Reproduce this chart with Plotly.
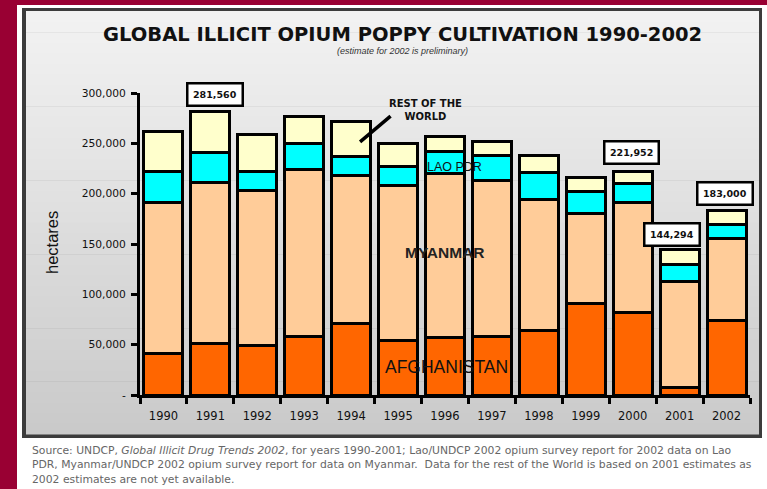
import plotly.graph_objects as go

# ---- data (hectares) ----
years = ["1990", "1991", "1992", "1993", "1994", "1995", "1996",
         "1997", "1998", "1999", "2000", "2001", "2002"]
afghanistan = [41300, 50800, 49300, 58300, 71470, 53759, 56824,
               58416, 63674, 90583, 82172, 7606, 74000]
myanmar = [150100, 160000, 153700, 165800, 146600, 154070, 163000,
           155150, 130300, 89500, 108700, 105000, 81400]
lao_pdr = [30580, 29625, 19190, 26040, 18520, 19650, 21601,
           24082, 26837, 22543, 19052, 17255, 14000]
rest_of_world = [40000, 41135, 36500, 27000, 35400, 22500, 15600,
                 14300, 17200, 13400, 12028, 14433, 13600]
callout_years = ["1991", "2000", "2001", "2002"]
callout_labels = ["281,560", "221,952", "144,294", "183,000"]
y_tickvals = [0, 50000, 100000, 150000, 200000, 250000, 300000]
y_ticktext = ["-", "50,000", "100,000", "150,000", "200,000", "250,000", "300,000"]

FONT = "Liberation Sans, Arial, sans-serif"
DJ = "DejaVu Sans, sans-serif"
W, H = 767, 489
L, R, T, B = 140, 750, 93, 395

def px(x):
    return (x - L) / (R - L)

def py(y):
    return (B - y) / (B - T)

xs = list(range(len(years)))
fig = go.Figure()
series = [
    ("Afghanistan", afghanistan, "#FF6600"),
    ("Myanmar", myanmar, "#FFCC99"),
    ("Lao PDR", lao_pdr, "#00FFFF"),
    ("Rest of the World", rest_of_world, "#FFFFCC"),
]
for name, vals, col in series:
    fig.add_trace(go.Bar(
        x=xs, y=vals, name=name,
        marker=dict(color=col, line=dict(color="black", width=3)),
        hoverinfo="x+y+name",
    ))

totals = [a + m + l + r for a, m, l, r in zip(afghanistan, myanmar, lao_pdr, rest_of_world)]

shapes = []
# white page area
shapes.append(dict(type="rect", xref="paper", yref="paper", layer="below",
                   x0=px(17), x1=px(767), y0=py(489), y1=py(5),
                   fillcolor="white", line=dict(width=0)))
# panel border
shapes.append(dict(type="rect", xref="paper", yref="paper", layer="below",
                   x0=px(22), x1=px(762), y0=py(438), y1=py(8),
                   fillcolor="#3c3c3c", line=dict(width=0)))
# gradient panel interior
top, bot = 11, 434
n = 40
c_top, c_bot = 243, 201
for i in range(n):
    y0 = top + (bot - top) * i / n
    y1 = top + (bot - top) * (i + 1) / n
    t = (i + 0.5) / n
    c = int(round(c_top + (c_bot - c_top) * t))
    shapes.append(dict(type="rect", xref="paper", yref="paper", layer="below",
                       x0=px(26), x1=px(759), y0=py(y1 + 0.6), y1=py(y0),
                       fillcolor=f"rgb({c},{c},{c})", line=dict(width=0)))

annotations = []
annotations.append(dict(text="<b>GLOBAL ILLICIT OPIUM POPPY CULTIVATION 1990-2002</b>",
                        xref="paper", yref="paper", x=px(402), y=py(34),
                        xanchor="center", yanchor="middle", showarrow=False,
                        font=dict(family=DJ, size=19.5, color="#111")))
annotations.append(dict(text="<i>(estimate for 2002 is preliminary)</i>",
                        xref="paper", yref="paper", x=px(402), y=py(51),
                        xanchor="center", yanchor="middle", showarrow=False,
                        font=dict(family=FONT, size=9, color="#333")))
annotations.append(dict(text="hectares", xref="paper", yref="paper",
                        x=px(52), y=py(243), textangle=-90,
                        xanchor="center", yanchor="middle", showarrow=False,
                        font=dict(family=FONT, size=16.5, color="#111")))
annotations.append(dict(text="<b>REST OF THE<br>WORLD</b>", xref="paper", yref="paper",
                        x=px(425), y=py(110), xanchor="center", yanchor="middle",
                        showarrow=False, font=dict(family=DJ, size=10, color="#111")))
# arrow line for rest of world
annotations.append(dict(text="", x=4.19, y=251500, xref="x", yref="y",
                        showarrow=True, arrowhead=0, arrowwidth=3.5, arrowcolor="black",
                        ax=32, ay=-27, standoff=0, startstandoff=0))
annotations.append(dict(text="LAO PDR", xref="paper", yref="paper",
                        x=px(454), y=py(167), xanchor="center", yanchor="middle",
                        showarrow=False, font=dict(family=FONT, size=12.5, color="#111")))
annotations.append(dict(text="<b>MYANMAR</b>", xref="paper", yref="paper",
                        x=px(445), y=py(252), xanchor="center", yanchor="middle",
                        showarrow=False, font=dict(family=FONT, size=15.5, color="#222")))
annotations.append(dict(text="AFGHANISTAN", xref="paper", yref="paper",
                        x=px(446), y=py(367), xanchor="center", yanchor="middle",
                        showarrow=False, font=dict(family=FONT, size=17.5, color="#111")))

shifts = {"1991": (5, 17), "2000": (-1, 19), "2001": (-8, 15), "2002": (-2, 17)}
for yr, lab in zip(callout_years, callout_labels):
    i = years.index(yr)
    xs_, ys_ = shifts[yr]
    annotations.append(dict(text="<b>" + lab + "</b>", x=i, y=totals[i], xref="x", yref="y",
                            xshift=xs_, yshift=ys_, showarrow=False,
                            xanchor="center", yanchor="middle",
                            bgcolor="white", bordercolor="black", borderwidth=2.5,
                            borderpad=4.5, font=dict(family=DJ, size=9.5, color="#111")))

src_lines = [
    "Source: UNDCP, <i>Global Illicit Drug Trends 2002</i>, for years 1990-2001; Lao/UNDCP 2002 opium survey report for 2002 data on Lao",
    "PDR, Myanmar/UNDCP 2002 opium survey report for data on Myanmar.  Data for the rest of the World is based on 2001 estimates as",
    "2002 estimates are not yet available.",
]
for k, line in enumerate(src_lines):
    annotations.append(dict(text=line, xref="paper", yref="paper",
                            x=px(30), y=py(450 + 14.5 * k), xanchor="left", yanchor="middle",
                            showarrow=False, font=dict(family=DJ, size=10.8, color="#666")))

fig.update_layout(
    width=W, height=H,
    margin=dict(l=L, r=W - R, t=T, b=H - B, pad=0),
    paper_bgcolor="#990033",
    plot_bgcolor="rgba(0,0,0,0)",
    barmode="stack", bargap=0.17,
    showlegend=False,
    shapes=shapes,
    annotations=annotations,
    font=dict(family=FONT, color="#111"),
    xaxis=dict(range=[-0.5, 12.5], tickvals=xs, ticktext=years, ticks="",
               showline=True, linecolor="black", linewidth=3, showgrid=False,
               zeroline=False, ticklabelstandoff=8,
               tickfont=dict(family=DJ, size=11.5, color="#111")),
    yaxis=dict(range=[0, 300000], tickvals=y_tickvals, ticktext=y_ticktext,
               ticks="outside", ticklen=6, tickwidth=2.5, tickcolor="black",
               showline=True, linecolor="black", linewidth=3, showgrid=False,
               zeroline=False, ticklabelstandoff=3,
               tickfont=dict(family=DJ, size=10.7, color="#111")),
)
fig.update_xaxes(minor=dict(ticks="outside", ticklen=6, tickwidth=2.5, tickcolor="black",
                            tickvals=[i - 0.5 for i in range(len(years) + 1)], showgrid=False))
fig.update_xaxes(tickprefix="<b>", ticksuffix="</b>")
fig.update_yaxes(tickprefix="<b>", ticksuffix="</b>")

fig.write_html("out.html", config={"displayModeBar": False},
               post_script="document.body.style.margin='0px';document.body.style.background='#990033';")
